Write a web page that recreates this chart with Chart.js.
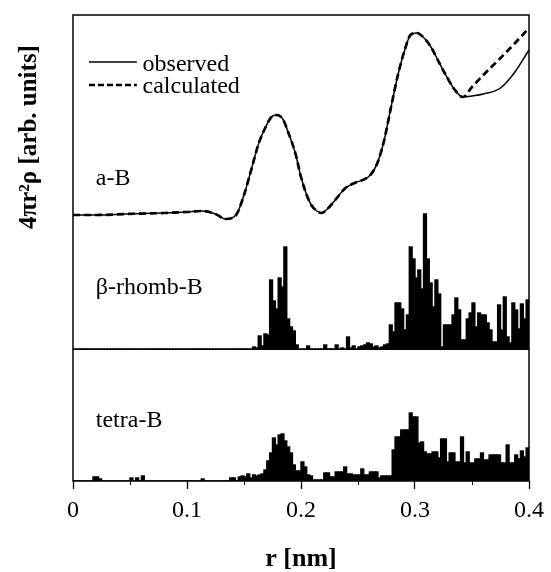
<!DOCTYPE html>
<html lang="en">
<head>
  <meta charset="UTF-8" />
  <title>Radial distribution, boron</title>
  <script src="https://cdn.jsdelivr.net/npm/chart.js@4"></script>
  <style>
    * { margin: 0; padding: 0; box-sizing: border-box; }
    body { background: #fff; }
    canvas { display: block; }
  </style>
</head>
<body>
  <canvas id="rdfChart" width="551" height="572"></canvas>

  <script>
    // a-B radial distribution curve (height above the a-B baseline)
    const curveR = [0, 0.02, 0.047, 0.08, 0.1, 0.113, 0.125, 0.134, 0.143, 0.15, 0.157, 0.163, 0.169, 0.174,
      0.179, 0.184, 0.189, 0.195, 0.2, 0.205, 0.209, 0.214, 0.218, 0.224, 0.23, 0.239, 0.247, 0.259, 0.264,
      0.268, 0.273, 0.279, 0.285, 0.291, 0.296, 0.3015, 0.308, 0.314, 0.32, 0.326, 0.335, 0.342,
      0.35, 0.36, 0.375, 0.387, 0.4];
    const observed = [0, 0, 1, 2, 3, 4, 1, -4, 0, 20, 48, 72, 88, 98,
      100, 96, 82, 62, 38, 20, 10, 4, 2, 7, 15, 27, 32, 38, 45,
      55, 75, 108, 140, 165, 180, 182, 177, 168, 155, 142, 125, 118,
      119, 121, 127, 142, 165];
    const calculated = [0, 0, 1, 2, 3, 4, 1, -4, 0, 20, 48, 72, 88, 98,
      100, 96, 82, 62, 38, 20, 10, 4, 2, 7, 15, 27, 32, 38, 45,
      55, 75, 108, 140, 165, 180, 182, 177, 168, 155, 142, 125, 118,
      128, 140, 157, 171, 187];

    // histograms of interatomic distances, bins of 0.0025 nm starting at r = 0
    const binWidth = 0.0025;
    const rhombCounts = [
      0, 0, 0, 0, 0, 0, 0, 0, 0, 0, 0, 0, 0, 0, 0, 0, 0, 0, 0, 0,
      0, 0, 0, 0, 0, 0, 0, 0, 0, 0, 0, 0, 0, 0, 0, 0, 0, 0, 0, 0,
      0, 0, 0, 0, 0, 0, 0, 0, 0, 0, 0, 0, 0, 0, 0, 0, 0, 0, 0, 0,
      0, 0, 0, 2, 1, 13, 3, 15, 14, 69, 48, 40, 71, 62, 102, 30, 22, 18, 4, 0,
      0, 0, 3, 0, 0, 0, 0, 0, 4, 0, 0, 0, 4, 0, 1, 0, 12, 1, 3, 0,
      2, 3, 4, 6, 5, 2, 3, 1, 2, 4, 5, 24, 17, 46, 46, 40, 19, 34, 102, 90,
      71, 79, 60, 135, 90, 66, 42, 69, 55, 2, 24, 24, 24, 34, 51, 39, 9, 9, 30, 36,
      46, 22, 36, 34, 34, 26, 19, 7, 7, 44, 19, 52, 12, 6, 46, 39, 20, 45, 30, 49
    ];
    const tetraCounts = [
      0, 0, 0, 0, 0, 0, 0, 4, 4, 2, 0, 0, 0, 0, 0, 0, 0, 0, 0, 0,
      3, 0, 3, 0, 5, 0, 0, 0, 0, 0, 0, 0, 0, 0, 0, 0, 0, 0, 0, 0,
      0, 0, 0, 0, 0, 2, 0, 0, 0, 0, 0, 0, 0, 0, 0, 3, 3, 0, 4, 5,
      4, 7, 3, 6, 5, 6, 7, 11, 20, 28, 43, 36, 46, 47, 40, 34, 28, 16, 10, 10,
      19, 14, 6, 5, 1, 1, 1, 1, 8, 8, 4, 4, 9, 9, 9, 14, 7, 7, 6, 6,
      6, 12, 6, 6, 9, 9, 9, 3, 5, 5, 5, 5, 31, 44, 44, 51, 51, 51, 68, 64,
      64, 38, 39, 29, 27, 27, 29, 29, 23, 42, 42, 19, 28, 28, 19, 19, 44, 18, 29, 18,
      18, 22, 22, 28, 21, 21, 26, 26, 26, 26, 18, 18, 36, 18, 18, 26, 22, 30, 24, 33
    ];

    const xTicks = [0, 0.1, 0.2, 0.3, 0.4];
    const minorTicks = [0.05, 0.15, 0.25, 0.35];

    // vertical offsets of the three panels (arb. units)
    const tetraBase = 0;
    const rhombBase = 132;
    const aBase = 266;
    const yTop = 466;

    const serif = "'Liberation Serif', 'Times New Roman', serif";

    function histData(counts, base) {
      return counts.map((h, i) => ({ x: (i + 0.5) * binWidth, y: [base, base + h] }));
    }
    function curveData(vals) {
      return curveR.map((r, i) => ({ x: r, y: aBase + vals[i] }));
    }

    const decor = {
      id: 'decor',
      afterDraw(chart) {
        const ctx = chart.ctx;
        const a = chart.chartArea;
        const xs = chart.scales.x;
        const ys = chart.scales.y;
        ctx.save();
        ctx.strokeStyle = '#000';
        ctx.fillStyle = '#000';

        // frame
        ctx.lineWidth = 1.5;
        ctx.strokeRect(a.left, a.top, a.right - a.left, a.bottom - a.top);

        // baseline of the beta-rhomb histogram
        const yMid = Math.round(ys.getPixelForValue(rhombBase)) + 0.5;
        ctx.lineWidth = 1.2;
        ctx.beginPath();
        ctx.moveTo(a.left, yMid);
        ctx.lineTo(a.right, yMid);
        ctx.stroke();

        // minor ticks
        ctx.lineWidth = 1;
        minorTicks.forEach(t => {
          const px = Math.round(xs.getPixelForValue(t)) + 0.5;
          ctx.beginPath();
          ctx.moveTo(px, a.bottom);
          ctx.lineTo(px, a.bottom + 4);
          ctx.stroke();
        });

        // panel labels
        ctx.font = '24px ' + serif;
        ctx.textAlign = 'left';
        ctx.textBaseline = 'alphabetic';
        const lx = xs.getPixelForValue(0.02);
        ctx.fillText('a-B', lx, ys.getPixelForValue(aBase + 30));
        ctx.fillText('β-rhomb-B', lx, ys.getPixelForValue(rhombBase + 55));
        ctx.fillText('tetra-B', lx, ys.getPixelForValue(tetraBase + 54));

        // legend
        const x0 = xs.getPixelForValue(0.014);
        const x1 = xs.getPixelForValue(0.056);
        const xt = xs.getPixelForValue(0.061);
        const yObs = ys.getPixelForValue(aBase + 153);
        const yCalc = ys.getPixelForValue(aBase + 130);
        ctx.lineWidth = 1.3;
        ctx.beginPath();
        ctx.moveTo(x0, yObs);
        ctx.lineTo(x1, yObs);
        ctx.stroke();
        ctx.lineWidth = 2.5;
        ctx.setLineDash([6, 3]);
        ctx.beginPath();
        ctx.moveTo(x0, yCalc);
        ctx.lineTo(x1, yCalc);
        ctx.stroke();
        ctx.setLineDash([]);
        ctx.fillText('observed', xt, yObs + 9);
        ctx.fillText('calculated', xt, yCalc + 8);

        // y axis title
        ctx.font = 'bold 25px ' + serif;
        ctx.textAlign = 'center';
        ctx.textBaseline = 'middle';
        ctx.translate(a.left - 43, ys.getPixelForValue(aBase + 78));
        ctx.rotate(-Math.PI / 2);
        ctx.fillText('4πr²ρ [arb. units]', 0, 0);
        ctx.restore();
      }
    };

    const ctx = document.getElementById('rdfChart').getContext('2d');

    const rdfChart = new Chart(ctx, {
      type: 'bar',
      data: {
        datasets: [
          {
            type: 'line',
            label: 'observed',
            data: curveData(observed),
            borderColor: '#000',
            borderWidth: 1.5,
            pointRadius: 0,
            cubicInterpolationMode: 'monotone',
            order: 1
          },
          {
            type: 'line',
            label: 'calculated',
            data: curveData(calculated),
            borderColor: '#000',
            borderWidth: 2.7,
            borderDash: [7, 4],
            pointRadius: 0,
            cubicInterpolationMode: 'monotone',
            order: 0
          },
          {
            label: 'beta-rhomb-B',
            data: histData(rhombCounts, rhombBase),
            backgroundColor: '#000',
            borderWidth: 0,
            inflateAmount: 0.7,
            grouped: false,
            barPercentage: 1,
            categoryPercentage: 1,
            order: 2
          },
          {
            label: 'tetra-B',
            data: histData(tetraCounts, tetraBase),
            backgroundColor: '#000',
            borderWidth: 0,
            inflateAmount: 0.7,
            grouped: false,
            barPercentage: 1,
            categoryPercentage: 1,
            order: 3
          }
        ]
      },
      options: {
        responsive: false,
        animation: false,
        layout: { padding: { left: 73, right: 19, top: 15, bottom: 0 } },
        plugins: {
          legend: { display: false },
          tooltip: { enabled: false }
        },
        scales: {
          x: {
            type: 'linear',
            min: 0,
            max: 0.4,
            offset: false,
            afterBuildTicks: scale => {
              scale.ticks = xTicks.map(v => ({ value: v }));
            },
            afterFit: scale => { scale.height = 91; },
            ticks: {
              color: '#000',
              font: { family: serif, size: 24 },
              padding: 7,
              maxRotation: 0,
              autoSkip: false,
              callback: v => String(+v.toFixed(1))
            },
            grid: {
              offset: false,
              drawOnChartArea: false,
              drawTicks: true,
              tickLength: 8,
              tickColor: '#000',
              tickWidth: 1.3
            },
            border: { display: false },
            title: {
              display: true,
              text: 'r [nm]',
              color: '#000',
              font: { family: serif, size: 26, weight: 'bold' },
              padding: { top: 0, bottom: -3 }
            }
          },
          y: {
            display: false,
            min: 0,
            max: yTop
          }
        }
      },
      plugins: [decor]
    });
  </script>
</body>
</html>
